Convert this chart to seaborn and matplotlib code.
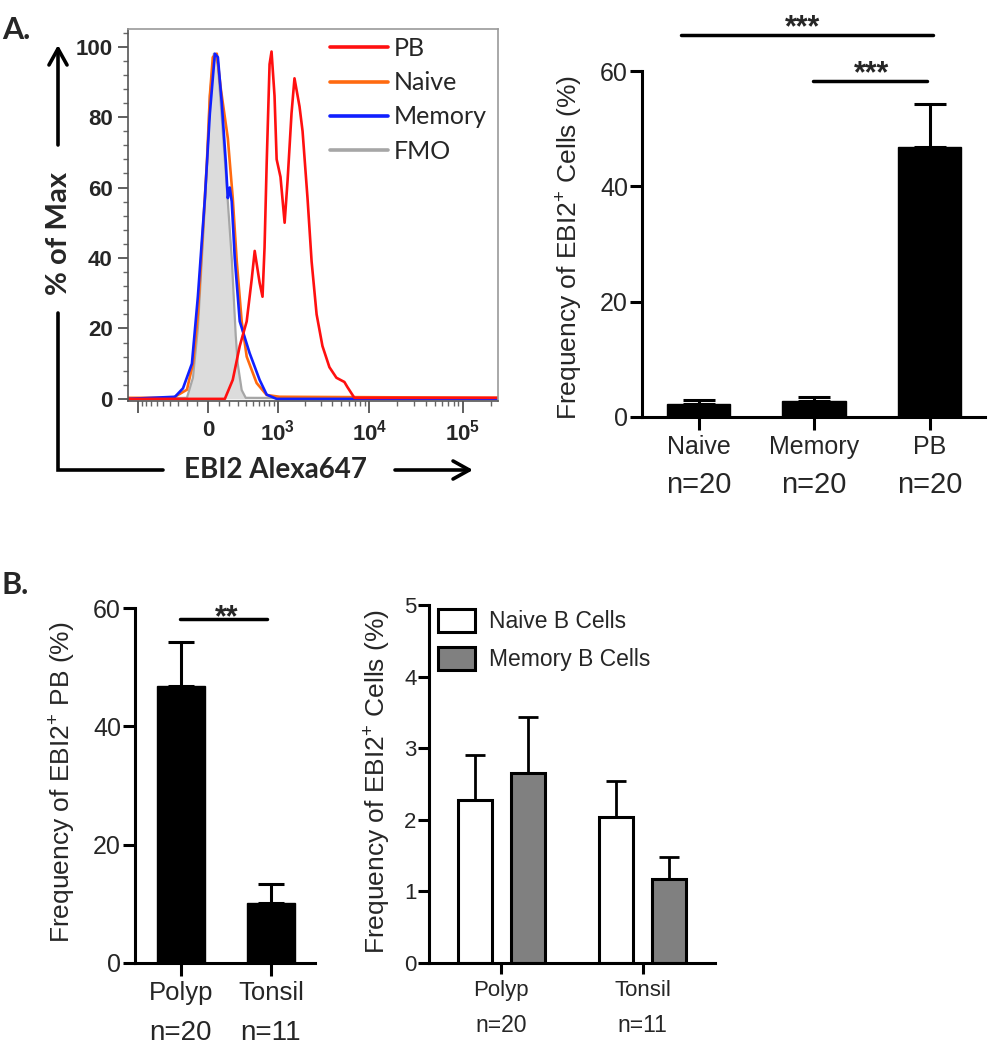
import numpy as np
import pandas as pd
import matplotlib
matplotlib.use("Agg")
import matplotlib.pyplot as plt
import seaborn as sns
from matplotlib.lines import Line2D
from matplotlib.patches import Patch, FancyArrowPatch
from matplotlib.ticker import MultipleLocator

# Tamaño de la imagen en pixeles
W, H = 993, 1050

# ---------------- Datos ----------------
# Histogramas (intensidad EBI2 Alexa647, % of Max)
pb_x = [-1300, 159, 241, 321, 410, 482, 528, 610, 663, 702, 745, 806, 850, 921, 974,
        1078, 1200, 1295, 1432, 1545, 1755, 1895, 2146, 2378, 2694, 3117, 3706, 4409,
        5373, 5778, 6882, 240000]
pb_y = [0, 0, 5.4, 15, 22, 34, 42, 33, 29, 43, 67, 95, 98.6, 86, 68, 63, 50, 62, 81, 91,
        83, 76, 57, 39, 24, 15, 9, 6, 4.8, 3.4, 0.3, 0.3]

naive_x = [-1300, -358, -199, -139, -92, -45, -9, 18, 45, 82, 120, 189, 241, 286, 345,
           410, 559, 745, 1050, 240000]
naive_y = [0.3, 0.3, 2.6, 10, 24, 48, 67, 86, 97, 98, 88, 74, 57, 39, 22, 12, 4.5, 1.1,
           0.6, 0.3]

memory_x = [-1300, -333, -241, -149, -92, -27, 18, 64, 92, 129, 169, 189, 209, 230, 263,
            321, 451, 610, 745, 974, 240000]
memory_y = [0, 0.6, 3, 10, 29, 57, 81, 98, 97, 84, 67, 57, 60, 56, 40, 22, 13, 5.4, 1.2,
            0, 0]

fmo_x = [-1300, -199, -139, -92, -45, -9, 18, 55, 92, 129, 179, 230, 274, 297, 345, 397,
         240000]
fmo_y = [0, 0.3, 6, 20, 45, 66, 86, 98, 95, 80, 60, 40, 18, 10, 2.5, 0.3, 0]

# Panel A derecho
tipos_a = ["Naive", "Memory", "PB"]
media_a = [2.3, 2.7, 46.8]
sem_a = [0.6, 0.75, 7.4]
n_a = ["n=20", "n=20", "n=20"]

# Panel B izquierdo
tejidos = ["Polyp", "Tonsil"]
media_pb = [46.9, 10.2]
sem_pb = [7.3, 3.1]
n_b = ["n=20", "n=11"]

# Panel B derecho
celulas = ["Naive B Cells", "Memory B Cells"]
media_naive = [2.27, 2.04]
sem_naive = [0.63, 0.50]
media_mem = [2.66, 1.18]
sem_mem = [0.78, 0.30]

# ---------------- Estilo ----------------
sns.set_style("ticks")
plt.rcParams["font.family"] = ["Liberation Sans", "DejaVu Sans"]
plt.rcParams["mathtext.fontset"] = "custom"
plt.rcParams["mathtext.rm"] = "Liberation Sans"
plt.rcParams["mathtext.bf"] = "Liberation Sans:bold"
plt.rcParams["mathtext.it"] = "Liberation Sans:italic"
PT = 72 / 100  # pixeles -> puntos


def caja(x0, y0, x1, y1):
    # rectangulo en pixeles de la imagen -> fracciones de figura
    return [x0 / W, 1 - y1 / H, (x1 - x0) / W, (y1 - y0) / H]


def fig_xy(x, y):
    return (x / W, 1 - y / H)


fig = plt.figure(figsize=(W / 100, H / 100), dpi=100)

# ---------------- Histograma ----------------
ax = fig.add_axes(caja(128, 29, 498, 401))
ax.set_xscale("asinh", linear_width=368)
ax.fill_between(fmo_x, fmo_y, color="#dcdcdc", lw=0, zorder=1)
sns.lineplot(x=fmo_x, y=fmo_y, color="#a6a6a6", lw=1.6, estimator=None, sort=False, ax=ax)
sns.lineplot(x=naive_x, y=naive_y, color="#ff6a10", lw=1.9, estimator=None, sort=False, ax=ax)
sns.lineplot(x=memory_x, y=memory_y, color="#1020ff", lw=1.9, estimator=None, sort=False, ax=ax)
sns.lineplot(x=pb_x, y=pb_y, color="#ff1010", lw=1.9, estimator=None, sort=False, ax=ax)
ax.set_xlim(-1300, 2.4e5)
ax.set_ylim(-0.6, 105)
ax.set_xlabel("")
ax.set_ylabel("")

ax.set_xticks([-1000, 0, 1e3, 1e4, 1e5])
ax.set_xticklabels(["", "0", r"$\mathbf{10^{3}}$", r"$\mathbf{10^{4}}$", r"$\mathbf{10^{5}}$"])
menores = ([-v for v in range(100, 1000, 100)] + list(range(100, 1000, 100))
           + list(range(2000, 10000, 1000)) + list(range(20000, 100000, 10000)) + [2e5])
ax.set_xticks(menores, minor=True)
ax.set_yticks([0, 20, 40, 60, 80, 100])
ax.yaxis.set_minor_locator(MultipleLocator(4))
for lab in ax.get_xticklabels() + ax.get_yticklabels():
    lab.set_fontweight("bold")
ax.tick_params(axis="both", which="major", labelsize=16, length=7, width=1.2, color="#444444")
ax.tick_params(axis="x", which="major", length=8.5, pad=5)
ax.tick_params(axis="y", which="major", pad=4)
ax.tick_params(axis="both", which="minor", length=3.5, width=1.0, color="#666666")
for lado, sp in ax.spines.items():
    sp.set_visible(True)
    sp.set_linewidth(1.2)
    sp.set_color("#555555" if lado in ("left", "bottom") else "#9a9a9a")

mano = [Line2D([], [], color=c, lw=2.6) for c in ["#ff1010", "#ff6a10", "#1020ff", "#a6a6a6"]]
ax.legend(mano, ["PB", "Naive", "Memory", "FMO"], loc="upper left",
          bbox_to_anchor=((330 - 128) / 370, (401 - 37) / 372), frameon=False,
          prop={"family": "Lato", "size": 18}, handlelength=2.3, handletextpad=0.25,
          labelspacing=0.45, borderpad=0, borderaxespad=0)

# Textos y flechas de los ejes del histograma
fig.text(*fig_xy(59, 233), "% of Max", rotation=90, ha="center", va="center",
         fontsize=21, fontweight="bold", family="Lato")
fig.text(*fig_xy(275, 470), "EBI2 Alexa647", ha="center", va="center",
         fontsize=20, fontweight="bold", family="Lato")
esquina = np.array([[58, 313], [58, 470], [163, 470]], dtype=float)
fig.add_artist(Line2D(esquina[:, 0] / W, 1 - esquina[:, 1] / H, transform=fig.transFigure,
                      color="black", lw=2.6, solid_joinstyle="miter"))
for a, b in [((58, 145), (58, 45)), ((395, 470), (473, 470))]:
    fig.add_artist(FancyArrowPatch(fig_xy(*a), fig_xy(*b), transform=fig.transFigure,
                                   arrowstyle="->,head_length=0.45,head_width=0.25",
                                   mutation_scale=26, lw=2.6, color="black",
                                   shrinkA=0, shrinkB=0))

fig.text(*fig_xy(2, 30), "A.", ha="left", va="center", fontsize=22, fontweight="bold", family="Lato")
fig.text(*fig_xy(2, 585), "B.", ha="left", va="center", fontsize=22, fontweight="bold", family="Lato")


def estilo_barras(ax, lw, size_tick, size_nombre, largo=9):
    sns.despine(ax=ax)
    for lado in ("left", "bottom"):
        ax.spines[lado].set_linewidth(lw)
        ax.spines[lado].set_color("black")
    ax.tick_params(axis="both", length=largo, width=lw, color="black", labelsize=size_tick)
    ax.tick_params(axis="x", labelsize=size_nombre, pad=4)
    ax.tick_params(axis="y", pad=1)
    ax.set_xlabel("")


def etiquetas_n(ax, textos, dy_px, size):
    for i, t in enumerate(textos):
        ax.annotate(t, xy=(i, 0), xycoords=("data", "axes fraction"),
                    xytext=(0, -dy_px * PT), textcoords="offset points",
                    ha="center", va="center", fontsize=size)


# ---------------- Panel A derecho ----------------
ax2 = fig.add_axes(caja(642, 71, 985, 417))
df_a = pd.DataFrame({"tipo": tipos_a, "media": media_a})
sns.barplot(data=df_a, x="tipo", y="media", color="black", edgecolor="black", saturation=1,
            width=0.55, errorbar=None, ax=ax2)
ax2.errorbar(range(len(tipos_a)), media_a, yerr=[np.zeros(len(sem_a)), sem_a], fmt="none",
             ecolor="black", elinewidth=2.2, capsize=11.5, capthick=2.2, zorder=1)
ax2.set_xlim(-0.49, 2.48)
ax2.set_ylim(0, 60)
ax2.set_yticks([0, 20, 40, 60])
estilo_barras(ax2, 2.2, 18, 18)
ax2.set_ylabel("Frequency of EBI2$^{+}$ Cells (%)", fontsize=19)
ax2.yaxis.set_label_coords(-0.166, 0.49)
etiquetas_n(ax2, n_a, 68, 21)
ax2.plot([-0.15, 2.03], [66.2, 66.2], color="black", lw=2.5, clip_on=False)
ax2.text(0.90, 66.0, "***", ha="center", va="baseline", fontsize=22, fontweight="bold")
ax2.plot([0.99, 1.98], [58.2, 58.2], color="black", lw=2.5, clip_on=False)
ax2.text(1.50, 58.0, "***", ha="center", va="baseline", fontsize=22, fontweight="bold")

# ---------------- Panel B izquierdo ----------------
ax3 = fig.add_axes(caja(135, 608, 315, 963))
df_b = pd.DataFrame({"tejido": tejidos, "media": media_pb})
sns.barplot(data=df_b, x="tejido", y="media", color="black", edgecolor="black", saturation=1,
            width=0.53, errorbar=None, ax=ax3)
ax3.errorbar(range(len(tejidos)), media_pb, yerr=[np.zeros(len(sem_pb)), sem_pb], fmt="none",
             ecolor="black", elinewidth=2.2, capsize=9.7, capthick=2.2, zorder=1)
ax3.set_xlim(-0.51, 1.49)
ax3.set_ylim(0, 60)
ax3.set_yticks([0, 20, 40, 60])
estilo_barras(ax3, 2.2, 18, 18.5)
ax3.set_ylabel("Frequency of EBI2$^{+}$ PB (%)", fontsize=19)
ax3.yaxis.set_label_coords(-0.317, 0.51)
etiquetas_n(ax3, n_b, 70, 20)
ax3.plot([-0.01, 0.96], [58.1, 58.1], color="black", lw=2.5, clip_on=False)
ax3.text(0.51, 56.9, "**", ha="center", va="baseline", fontsize=22, fontweight="bold")

# ---------------- Panel B derecho ----------------
ax4 = fig.add_axes(caja(429, 605, 715, 963))
df_c = pd.DataFrame({
    "tejido": tejidos * 2,
    "celula": [celulas[0]] * 2 + [celulas[1]] * 2,
    "valor": media_naive + media_mem,
})
sns.barplot(data=df_c, x="tejido", y="valor", hue="celula", palette=["white", "#808080"],
            edgecolor="black", linewidth=2.2, saturation=1, width=0.75, gap=0.36,
            errorbar=None, ax=ax4)
for cont, err in zip(ax4.containers, [sem_naive, sem_mem]):
    xs = [p.get_x() + p.get_width() / 2 for p in cont]
    hs = [p.get_height() for p in cont]
    ax4.errorbar(xs, hs, yerr=[np.zeros(len(err)), err], fmt="none", ecolor="black",
                 elinewidth=2.0, capsize=7.2, capthick=2.0, zorder=1)
ax4.set_xlim(-0.51, 1.51)
ax4.set_ylim(0, 5)
ax4.set_yticks([0, 1, 2, 3, 4, 5])
estilo_barras(ax4, 2.2, 16, 16, largo=8)
ax4.set_ylabel("Frequency of EBI2$^{+}$ Cells (%)", fontsize=19)
ax4.yaxis.set_label_coords(-0.126, 0.508)
etiquetas_n(ax4, n_b, 62, 16.5)
cajas = [Patch(facecolor=c, edgecolor="black", lw=2.2) for c in ["white", "#808080"]]
ax4.legend(cajas, celulas, loc="upper left", bbox_to_anchor=(0.031, 0.99), frameon=False,
           fontsize=16.5, handlelength=1.6, handleheight=1.17, handletextpad=0.65,
           labelspacing=0.6, borderpad=0, borderaxespad=0)

fig.savefig("out.png", dpi=100)
